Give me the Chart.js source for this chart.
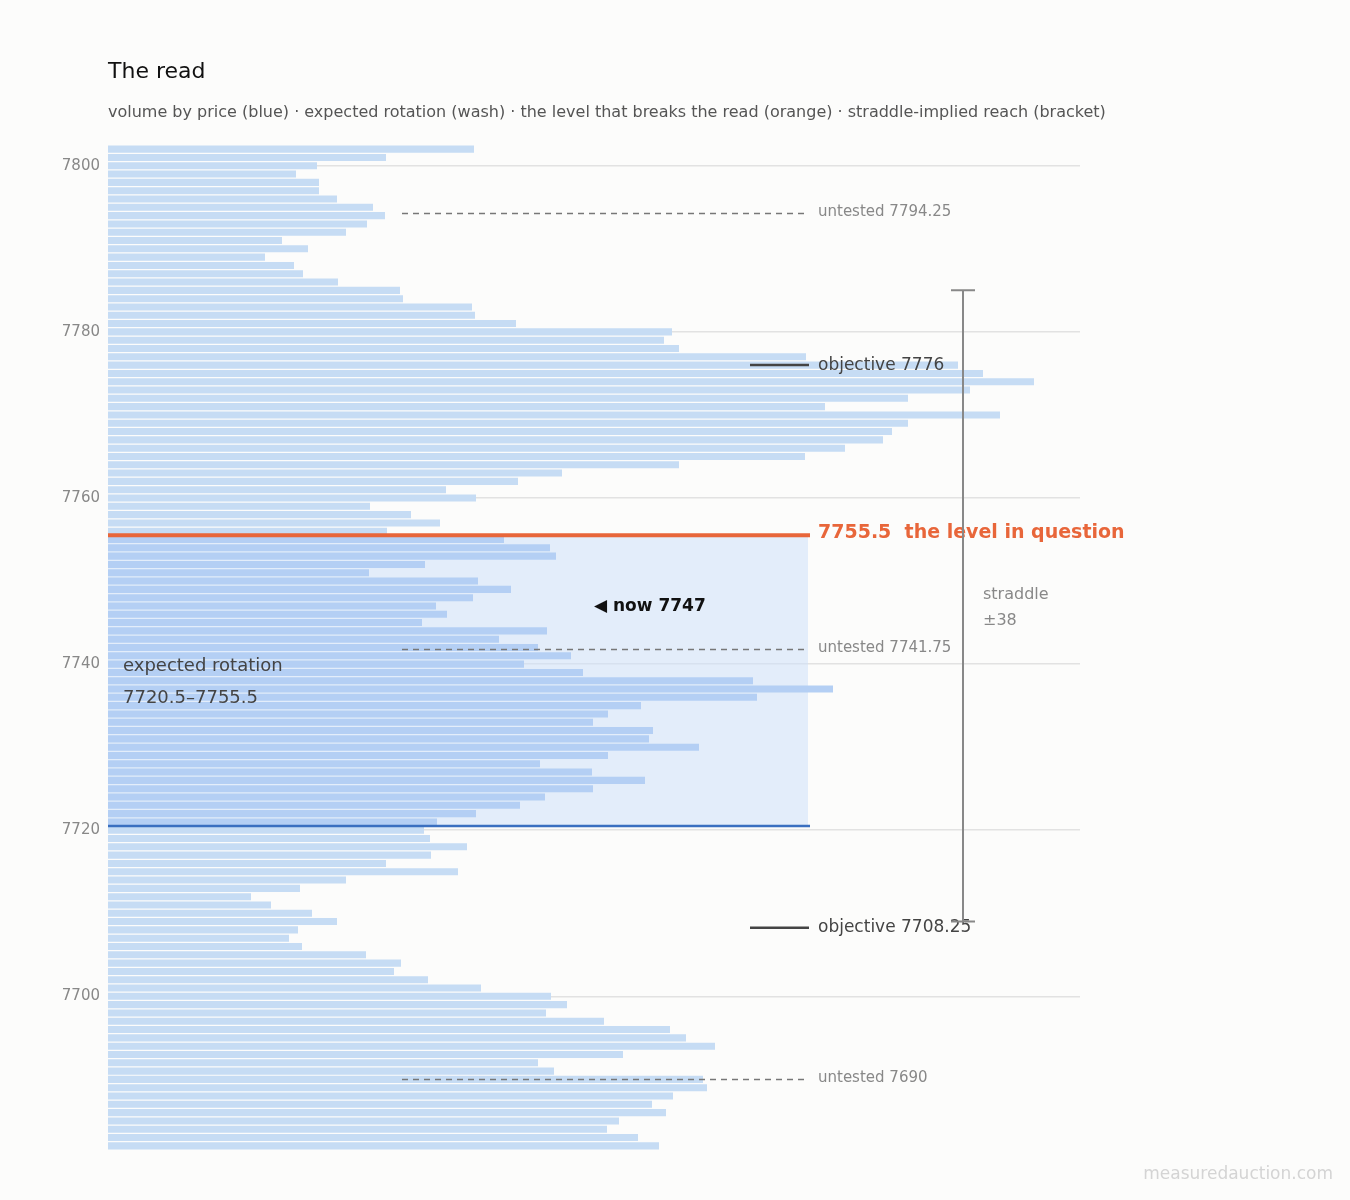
<!DOCTYPE html>
<html><head><meta charset="utf-8">
<script src="https://cdn.jsdelivr.net/npm/chart.js@4"></script>
<style>body{margin:0;background:#fcfcfb;font-family:'DejaVu Sans',sans-serif}canvas{display:block}</style>
</head><body>
<canvas id="c" width="1350" height="1200"></canvas>
<script>
// price levels, top to bottom
const prices = [];
for (let p = 7802; p >= 7682; p--) prices.push(p);
// volume at each price (relative)
const volumes = [366,278,209,188,211,211,229,265,277,259,238,174,200,157,186,195,230,292,295,364,367,408,564,556,571,698,850,875,926,862,800,717,892,800,784,775,737,697,571,454,410,338,368,262,303,332,279,396,442,448,317,261,370,403,365,328,339,314,439,391,430,463,416,475,645,725,649,533,500,485,545,541,591,500,432,484,537,485,437,412,368,329,316,322,359,323,278,350,238,192,143,163,204,229,190,181,194,258,293,286,320,373,443,459,438,496,562,578,607,515,430,446,595,599,565,544,558,511,499,530,551];
const yTicks = [7700, 7720, 7740, 7760, 7780, 7800];
const rotationLow = 7720.5, rotationHigh = 7755.5;
const breakLevel = 7755.5;
const untested = [7794.25, 7741.75, 7690];
const objectives = [7776, 7708.25];
const now = 7747;
const straddleTop = 7785, straddleBottom = 7709, straddle = 38;

const FONT = "'DejaVu Sans', 'Bitstream Vera Sans', sans-serif";
Chart.defaults.font.family = FONT;

const barData = prices.map((p, i) => ({x: volumes[i], y: p}));
const barColors = prices.map(p => (p >= rotationLow && p <= rotationHigh) ? '#b4cff4' : '#c6dcf4');

const overlay = {
  id: 'overlay',
  beforeDatasetsDraw(chart) {
    const {ctx, scales: {x, y}} = chart;
    ctx.save();
    ctx.fillStyle = 'rgba(205,224,250,0.55)';
    ctx.fillRect(x.left, y.getPixelForValue(rotationHigh), 808 - x.left, y.getPixelForValue(rotationLow) - y.getPixelForValue(rotationHigh));
    ctx.restore();
  },
  afterDraw(chart) {
    const {ctx, scales: {x, y}} = chart;
    ctx.save();
    ctx.textBaseline = 'middle';
    ctx.fillStyle = '#111';
    ctx.font = '22px ' + FONT;
    ctx.fillText('The read', 108, 72);
    ctx.fillStyle = '#555';
    ctx.font = '16px ' + FONT;
    ctx.fillText('volume by price (blue) · expected rotation (wash) · the level that breaks the read (orange) · straddle-implied reach (bracket)', 108, 113);

    // dashed untested levels
    ctx.setLineDash([6, 5]);
    ctx.strokeStyle = '#777'; ctx.lineWidth = 1.5;
    untested.forEach(v => {
      const py = y.getPixelForValue(v);
      ctx.beginPath(); ctx.moveTo(402, py); ctx.lineTo(805, py); ctx.stroke();
      ctx.fillStyle = '#888'; ctx.font = '15px ' + FONT;
      ctx.fillText('untested ' + v, 818, py - 1);
    });
    ctx.setLineDash([]);

    // rotation edges
    let py = y.getPixelForValue(rotationLow);
    ctx.strokeStyle = '#3a6fc0'; ctx.lineWidth = 2.5;
    ctx.beginPath(); ctx.moveTo(x.left, py); ctx.lineTo(810, py); ctx.stroke();
    py = y.getPixelForValue(breakLevel);
    ctx.strokeStyle = '#e8663a'; ctx.lineWidth = 4;
    ctx.beginPath(); ctx.moveTo(x.left, py); ctx.lineTo(810, py); ctx.stroke();
    ctx.fillStyle = '#e8663a'; ctx.font = 'bold 19px ' + FONT;
    ctx.fillText(breakLevel + '  the level in question', 818, py - 2);

    // objectives
    objectives.forEach(v => {
      const oy = y.getPixelForValue(v);
      ctx.strokeStyle = '#444'; ctx.lineWidth = 2.5;
      ctx.beginPath(); ctx.moveTo(750, oy); ctx.lineTo(809, oy); ctx.stroke();
      ctx.fillStyle = '#444'; ctx.font = '17px ' + FONT;
      ctx.fillText('objective ' + v, 818, oy);
    });

    // now
    ctx.fillStyle = '#111'; ctx.font = 'bold 17px ' + FONT;
    ctx.fillText('◀ now ' + now, 594, y.getPixelForValue(now) + 1);

    // rotation label
    ctx.fillStyle = '#444'; ctx.font = '18px ' + FONT;
    ctx.fillText('expected rotation', 123, 666);
    ctx.fillText(rotationLow + '–' + rotationHigh, 123, 698);

    // straddle bracket
    const t = y.getPixelForValue(straddleTop), b = y.getPixelForValue(straddleBottom);
    ctx.strokeStyle = '#888'; ctx.lineWidth = 2;
    ctx.beginPath();
    ctx.moveTo(963, t); ctx.lineTo(963, b);
    ctx.moveTo(951, t); ctx.lineTo(975, t);
    ctx.moveTo(951, b); ctx.lineTo(975, b);
    ctx.stroke();
    ctx.fillStyle = '#888'; ctx.font = '16px ' + FONT;
    ctx.fillText('straddle', 983, 595);
    ctx.fillText('±' + straddle, 983, 621);

    ctx.fillStyle = '#d4d4d4'; ctx.font = '17px ' + FONT;
    ctx.textAlign = 'right';
    ctx.fillText('measuredauction.com', 1333, 1175);
    ctx.restore();
  }
};

new Chart(document.getElementById('c'), {
  type: 'bar',
  data: {datasets: [{data: barData, backgroundColor: barColors, barPercentage: 0.85, categoryPercentage: 1}]},
  options: {
    indexAxis: 'y', responsive: false, animation: false, devicePixelRatio: 1,
    layout: {padding: {left: 0, right: 270, top: 145, bottom: 50}},
    plugins: {legend: {display: false}, tooltip: {enabled: false}},
    scales: {
      x: {type: 'linear', min: 0, max: 972, display: false},
      y: {
        type: 'linear', min: 7681.5, max: 7802.5, offset: false,
        afterBuildTicks: s => { s.ticks = yTicks.map(v => ({value: v})); },
        afterFit: s => { s.width = 108; },
        border: {display: false},
        grid: {color: '#e2e2e2', lineWidth: 1.5, drawTicks: false, offset: false},
        ticks: {color: '#888', font: {size: 15}, padding: 8, callback: v => String(v)}
      }
    }
  },
  plugins: [overlay]
});
</script>
</body></html>
